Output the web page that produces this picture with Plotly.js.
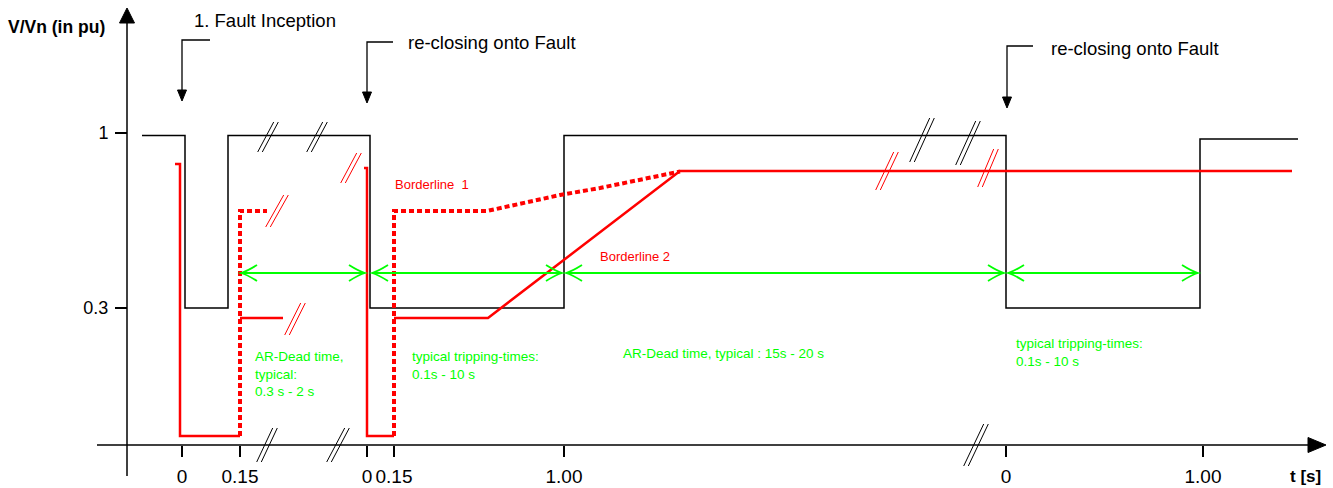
<!DOCTYPE html>
<html>
<head>
<meta charset="utf-8">
<script src="https://cdn.plot.ly/plotly-3.0.1.min.js"></script>
<style>html,body{margin:0;padding:0;background:#fff;}#chart{width:1333px;height:488px;}</style>
</head>
<body>
<div id="chart"></div>
<script>
// ---- schematic data (x = schematic time position, y = V/Vn in pu) ----
const voltX = [142,185,185,228,228,370,370,564,564,1006,1006,1200,1200,1298];
const voltY = [0.99,0.99,0.30,0.30,0.99,0.99,0.30,0.30,0.99,0.99,0.30,0.30,0.976,0.976];

const fault1X = [175,180,180,240];
const fault1Y = [0.876,0.876,-0.212,-0.212];
const fault1LowX = [240,283];
const fault1LowY = [0.26,0.26];
const fault1DotX = [240,240,267];
const fault1DotY = [-0.212,0.688,0.688];

const fault2X = [364,367,367,394];
const fault2Y = [0.86,0.86,-0.212,-0.212];

const border1X = [394,394,487,513,560,600,633,680];
const border1Y = [-0.212,0.688,0.688,0.712,0.752,0.78,0.808,0.846];
const border2X = [394,488,680,1292];
const border2Y = [0.26,0.26,0.848,0.848];

const greenY = 0.44;
const greenSegStart = [241,372,566,1008];
const greenSegEnd = [365,562,1004,1198];

const xTickPos = [182,240,367,394,564,1006,1203];
const xTickText = ['0','0.15','0','0.15','1.00','0','1.00'];
const yTickVals = [0.3,1];
const yTickText = ['0.3','1'];

// ---- helpers ----
const PX_PER_PU = 250;
const pu = (ypx) => (383 - ypx) / PX_PER_PU;
const dpu = (px) => px / PX_PER_PU;
const FONT = 'Liberation Sans, Arial, sans-serif';
const GREEN = '#00ff00';
const RED = '#ff0000';

const traces = [];
function line(x, y, color, width, dash) {
  traces.push({x: x, y: y, mode: 'lines', type: 'scatter', hoverinfo: 'skip',
    line: {color: color, width: width, dash: dash || 'solid', shape: 'linear'}});
}
line(voltX, voltY, '#000', 1.5);
line(fault1X, fault1Y, RED, 2.5);
line(fault1LowX, fault1LowY, RED, 2.5);
line(fault2X, fault2Y, RED, 2.5);
line(border2X, border2Y, RED, 2.5);
line(fault1DotX, fault1DotY, RED, 4, '5px,3px');
line(border1X, border1Y, RED, 4, '5px,3px');
for (let i = 0; i < greenSegStart.length; i++) {
  line([greenSegStart[i], greenSegEnd[i]], [greenY, greenY], GREEN, 1.8);
}

const shapes = [];
// green chevrons
function chevron(xt, y, dir) {
  const L = 16, H = 8;
  const xb = xt - dir * L;
  const xc = xt - dir * L * 0.35;
  shapes.push({type: 'path', xref: 'x', yref: 'y', line: {color: GREEN, width: 1.8},
    path: `M ${xb} ${y + dpu(H)} Q ${xc} ${y + dpu(1.5)} ${xt} ${y} Q ${xc} ${y - dpu(1.5)} ${xb} ${y - dpu(H)}`});
}
for (let i = 0; i < greenSegStart.length; i++) {
  chevron(greenSegStart[i], greenY, -1);
  chevron(greenSegEnd[i], greenY, 1);
}
// double-slash break marks: [cx, cy(px), half dx, half dy, color]
const breaks = [
  [268,137,8,15,'#000'],[317,137,8,15,'#000'],[922,140,10,22,'#000'],[968,143,10,22,'#000'],
  [351,168,8,15,RED],[277,211,9,16,RED],[295,319,8,16,RED],[887,171,9,19,RED],[988,168,8,19,RED],
  [267,445,8,17,'#000'],[338,445,9,17,'#000'],[976,445,10,21,'#000']
];
breaks.forEach(b => {
  [-2.3, 2.3].forEach(off => {
    shapes.push({type: 'line', xref: 'x', yref: 'y', line: {color: b[4], width: 1},
      x0: b[0] + off - b[2], y0: pu(b[1] + b[3]), x1: b[0] + off + b[2], y1: pu(b[1] - b[3])});
  });
});
// axes lines and arrow heads
shapes.push({type: 'line', xref: 'x', yref: 'y', line: {color: '#000', width: 1.5}, x0: 127, y0: pu(476), x1: 127, y1: pu(20)});
shapes.push({type: 'line', xref: 'x', yref: 'y', line: {color: '#000', width: 1.5}, x0: 97, y0: pu(445), x1: 1310, y1: pu(445)});
function tri(path) { shapes.push({type: 'path', xref: 'x', yref: 'y', fillcolor: '#000', line: {color: '#000', width: 1}, path: path}); }
tri(`M 127 ${pu(8)} L 119.5 ${pu(23)} L 134.5 ${pu(23)} Z`);
tri(`M 1326 ${pu(445)} L 1308 ${pu(437.5)} L 1308 ${pu(452.5)} Z`);
// callout arrows
function callout(xTip, yTop, xEnd, yTip) {
  shapes.push({type: 'path', xref: 'x', yref: 'y', line: {color: '#000', width: 1.3},
    path: `M ${xEnd} ${pu(yTop)} L ${xTip} ${pu(yTop)} L ${xTip} ${pu(yTip - 9)}`});
  tri(`M ${xTip} ${pu(yTip)} L ${xTip - 4.5} ${pu(yTip - 11)} L ${xTip + 4.5} ${pu(yTip - 11)} Z`);
}
callout(182, 40, 210, 101);
callout(367, 42, 393, 103);
callout(1007, 46, 1033, 108);

const annotations = [];
function txt(x, ypx, text, size, color, bold, anchor) {
  annotations.push({x: x, y: pu(ypx), xref: 'x', yref: 'y', text: bold ? '<b>' + text + '</b>' : text,
    showarrow: false, xanchor: 'left', yanchor: anchor || 'middle', align: 'left',
    font: {family: FONT, size: size, color: color}});
}
txt(192, 20, '1. Fault Inception', 18.5, '#000');
txt(406, 42, 're-closing onto Fault', 18.5, '#000');
txt(1049, 48, 're-closing onto Fault', 18.5, '#000');
txt(6, 27, 'V/Vn (in pu)', 17.5, '#000', true);
txt(1288, 476, 't [s]', 17, '#000', true);
txt(393, 184, 'Borderline  1', 13, RED);
txt(598, 256, 'Borderline 2', 13, RED);
txt(253, 374, 'AR-Dead time,<br>typical:<br>0.3 s - 2 s', 13.5, GREEN);
txt(410, 365, 'typical tripping-times:<br>0.1s - 10 s', 13.5, GREEN);
txt(621, 353, 'AR-Dead time, typical : 15s - 20 s', 13.5, GREEN);
txt(1014, 352, 'typical tripping-times:<br>0.1s - 10 s', 13.5, GREEN);

const layout = {
  width: 1333, height: 488,
  margin: {l: 0, r: 0, t: 0, b: 0, pad: 0},
  paper_bgcolor: '#fff', plot_bgcolor: 'rgba(0,0,0,0)',
  showlegend: false,
  font: {family: FONT, color: '#000'},
  xaxis: {range: [0, 1333], domain: [0, 1], anchor: 'free', position: (488 - 445) / 488,
    showgrid: false, zeroline: false, showline: false,
    tickmode: 'array', tickvals: xTickPos, ticktext: xTickText, tickangle: 0,
    ticks: 'outside', ticklen: 11, tickwidth: 1.5, tickcolor: '#000',
    tickfont: {family: FONT, size: 19, color: '#000'}, ticklabelstandoff: 3},
  yaxis: {range: [pu(488), pu(0)], domain: [0, 1], anchor: 'free', position: 127 / 1333,
    showgrid: false, zeroline: false, showline: false,
    tickmode: 'array', tickvals: yTickVals, ticktext: yTickText,
    ticks: 'outside', ticklen: 12, tickwidth: 1.5, tickcolor: '#000',
    tickfont: {family: FONT, size: 18, color: '#000'}, ticklabelstandoff: 3},
  shapes: shapes,
  annotations: annotations
};
Plotly.newPlot('chart', traces, layout, {staticPlot: true, displayModeBar: false});
</script>
</body>
</html>
